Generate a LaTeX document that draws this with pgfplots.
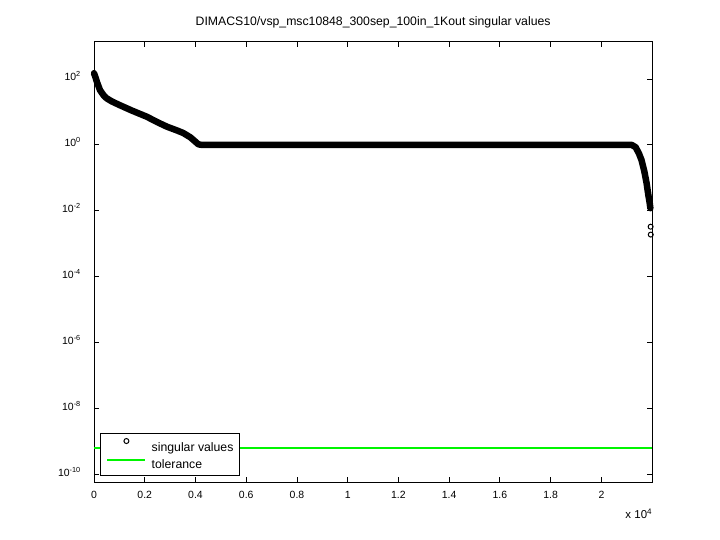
\documentclass[border=0pt]{standalone}
\usepackage{fontspec}
\setmainfont{Liberation Sans}
\usepackage{pgfplots}
\pgfplotsset{compat=1.18}
\definecolor{tolgreen}{RGB}{0,245,0}
\pgfplotsset{
  /pgfplots/mymarklegend/.style={legend image code/.code={\draw[##1] plot coordinates {(19bp,6.5bp)};}},
  /pgfplots/mylinelegend/.style={legend image code/.code={\draw[##1] (0bp,5bp) -- (37.6bp,5bp);}},
}
\begin{document}
\fontsize{10.5}{12}\selectfont
\begin{tikzpicture}
\useasboundingbox (-94bp,-57.3bp) rectangle (626bp,482.7bp);
\begin{axis}[
  at={(0,0)}, anchor=south west,
  scale only axis, width=558.3bp, height=441.2bp,
  ymode=log,
  xmin=0, xmax=22006,
  ymin=5.6e-11, ymax=1380,
  scaled x ticks=false,
  axis line style={line width=0.9bp},
  tick style={line width=0.9bp, black},
  tick align=inside,
  major tick length=5.5bp,
  xtick={0,2000,4000,6000,8000,10000,12000,14000,16000,18000,20000},
  xticklabels={0,0.2,0.4,0.6,0.8,1,1.2,1.4,1.6,1.8,2},
  ytick={1e-10,1e-8,1e-6,1e-4,1e-2,1,1e2},
  yticklabels={10\textsuperscript{-10},10\textsuperscript{-8},10\textsuperscript{-6},10\textsuperscript{-4},10\textsuperscript{-2},10\textsuperscript{0},10\textsuperscript{2}},
  minor ytick={},
  log basis y=10,
  ticklabel style={font=\fontsize{10.5}{12}\selectfont},
  xticklabel style={anchor=base, yshift=-15.3bp},
  yticklabel style={anchor=base east, inner sep=0pt, xshift=-13bp, yshift=-1.7bp},
  title={DIMACS10/vsp\_msc10848\_300sep\_100in\_1Kout singular values},
  title style={font=\fontsize{12.3}{14}\selectfont, at={(0.5,1)}, anchor=base, inner sep=0pt, yshift=10.5bp},
  legend style={at={(0.0107,0.0159)}, anchor=south west, draw=black, line width=0.9bp,
    font=\fontsize{12.3}{14}\selectfont, inner xsep=6bp, inner ysep=4.7bp, row sep=5bp,
    column sep=5.7bp,
    nodes={inner sep=0pt, text height=10bp, text depth=2bp},
    cells={anchor=west}},
  legend cell align=left,
  clip=false,
]
% thick band of overlapping singular value markers
\addplot[black, line width=6.5bp, line cap=round, line join=round, forget plot] coordinates {
(1,150) (40,125) (120,80) (237,46) (380,32) (500,26) (700,21) (1025,16) (1500,11) (2080,7.2) (2500,4.9) (2870,3.6) (3300,2.7) (3520,2.3) (3800,1.7) (4000,1.25) (4110,1.05) (4250,1.0)
(8000,1.0) (12000,1.0) (16000,1.0) (21200,1.0) (21350,0.85) (21480,0.55) (21580,0.35) (21690,0.16) (21780,0.07) (21850,0.03) (21900,0.018) (21930,0.012)
};
\addplot[black, only marks, mark=o, mark size=2.5bp, line width=1bp, mymarklegend] coordinates {
(21940,0.0033) (21945,0.0019)
};
\addlegendentry{singular values}
\addplot[draw=tolgreen, line width=2bp, mylinelegend] coordinates {
(0,6.4e-10) (22006,6.4e-10)
};
\addlegendentry{tolerance}
\node[anchor=east, inner sep=0pt, yshift=-31.3bp, font=\fontsize{11.5}{13}\selectfont] at (rel axis cs:1,0) {x 10\textsuperscript{4}};
\end{axis}
\end{tikzpicture}
\end{document}
